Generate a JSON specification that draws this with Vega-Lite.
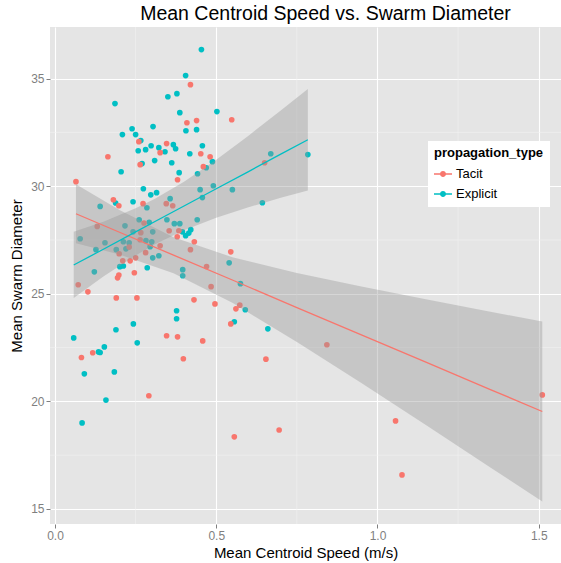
{
  "$schema": "https://vega.github.io/schema/vega-lite/v6.json",
  "width": 511,
  "height": 497,
  "autosize": {"type": "none"},
  "padding": {"left": 50, "top": 27, "right": 0, "bottom": 39},
  "background": "white",
  "title": {"text": "Mean Centroid Speed vs. Swarm Diameter", "font": "Liberation Sans", "fontSize": 19.5, "fontWeight": "normal", "color": "black", "anchor": "middle", "offset": 2, "dx": 20},
  "config": {
    "view": {"fill": "#E5E5E5", "stroke": null},
    "axis": {"labelFont": "Liberation Sans", "titleFont": "Liberation Sans", "labelFontSize": 12, "labelColor": "#7F7F7F", "tickColor": "#7F7F7F", "tickSize": 4, "domain": false, "grid": true, "gridColor": "#FFFFFF", "gridWidth": 1.1, "titleFontSize": 15, "titleFontWeight": "normal", "titleColor": "black", "labelPadding": 2},
    "legend": {"labelFont": "Liberation Sans", "titleFont": "Liberation Sans"}
  },
  "datasets": {
    "pts": [
      {"speed":0.454,"diameter":36.35,"propagation_type":"Explicit"},
      {"speed":0.405,"diameter":35.14,"propagation_type":"Explicit"},
      {"speed":0.186,"diameter":33.84,"propagation_type":"Explicit"},
      {"speed":0.350,"diameter":34.16,"propagation_type":"Explicit"},
      {"speed":0.378,"diameter":34.30,"propagation_type":"Explicit"},
      {"speed":0.387,"diameter":33.42,"propagation_type":"Explicit"},
      {"speed":0.406,"diameter":32.58,"propagation_type":"Explicit"},
      {"speed":0.439,"diameter":32.63,"propagation_type":"Explicit"},
      {"speed":0.239,"diameter":32.67,"propagation_type":"Explicit"},
      {"speed":0.304,"diameter":32.77,"propagation_type":"Explicit"},
      {"speed":0.209,"diameter":32.40,"propagation_type":"Explicit"},
      {"speed":0.250,"diameter":32.40,"propagation_type":"Explicit"},
      {"speed":0.266,"diameter":32.12,"propagation_type":"Explicit"},
      {"speed":0.258,"diameter":31.65,"propagation_type":"Explicit"},
      {"speed":0.281,"diameter":31.70,"propagation_type":"Explicit"},
      {"speed":0.298,"diameter":31.88,"propagation_type":"Explicit"},
      {"speed":0.322,"diameter":31.79,"propagation_type":"Explicit"},
      {"speed":0.367,"diameter":31.93,"propagation_type":"Explicit"},
      {"speed":0.374,"diameter":31.74,"propagation_type":"Explicit"},
      {"speed":0.341,"diameter":31.60,"propagation_type":"Explicit"},
      {"speed":0.270,"diameter":31.05,"propagation_type":"Explicit"},
      {"speed":0.309,"diameter":31.19,"propagation_type":"Explicit"},
      {"speed":0.362,"diameter":31.09,"propagation_type":"Explicit"},
      {"speed":0.418,"diameter":31.51,"propagation_type":"Explicit"},
      {"speed":0.457,"diameter":31.88,"propagation_type":"Explicit"},
      {"speed":0.469,"diameter":30.86,"propagation_type":"Explicit"},
      {"speed":0.205,"diameter":30.67,"propagation_type":"Explicit"},
      {"speed":0.385,"diameter":30.63,"propagation_type":"Explicit"},
      {"speed":0.442,"diameter":30.58,"propagation_type":"Explicit"},
      {"speed":0.274,"diameter":29.88,"propagation_type":"Explicit"},
      {"speed":0.297,"diameter":29.60,"propagation_type":"Explicit"},
      {"speed":0.315,"diameter":29.70,"propagation_type":"Explicit"},
      {"speed":0.357,"diameter":29.42,"propagation_type":"Explicit"},
      {"speed":0.450,"diameter":29.84,"propagation_type":"Explicit"},
      {"speed":0.502,"diameter":33.47,"propagation_type":"Explicit"},
      {"speed":0.488,"diameter":31.14,"propagation_type":"Explicit"},
      {"speed":0.669,"diameter":31.51,"propagation_type":"Explicit"},
      {"speed":0.784,"diameter":31.47,"propagation_type":"Explicit"},
      {"speed":0.491,"diameter":30.02,"propagation_type":"Explicit"},
      {"speed":0.550,"diameter":29.84,"propagation_type":"Explicit"},
      {"speed":0.457,"diameter":29.47,"propagation_type":"Explicit"},
      {"speed":0.188,"diameter":29.22,"propagation_type":"Explicit"},
      {"speed":0.140,"diameter":29.06,"propagation_type":"Explicit"},
      {"speed":0.242,"diameter":29.28,"propagation_type":"Explicit"},
      {"speed":0.285,"diameter":29.00,"propagation_type":"Explicit"},
      {"speed":0.347,"diameter":28.44,"propagation_type":"Explicit"},
      {"speed":0.261,"diameter":28.44,"propagation_type":"Explicit"},
      {"speed":0.292,"diameter":28.32,"propagation_type":"Explicit"},
      {"speed":0.217,"diameter":28.16,"propagation_type":"Explicit"},
      {"speed":0.370,"diameter":28.26,"propagation_type":"Explicit"},
      {"speed":0.387,"diameter":28.26,"propagation_type":"Explicit"},
      {"speed":0.441,"diameter":28.44,"propagation_type":"Explicit"},
      {"speed":0.395,"diameter":27.88,"propagation_type":"Explicit"},
      {"speed":0.405,"diameter":27.70,"propagation_type":"Explicit"},
      {"speed":0.415,"diameter":27.82,"propagation_type":"Explicit"},
      {"speed":0.421,"diameter":27.98,"propagation_type":"Explicit"},
      {"speed":0.078,"diameter":27.56,"propagation_type":"Explicit"},
      {"speed":0.155,"diameter":27.37,"propagation_type":"Explicit"},
      {"speed":0.242,"diameter":27.88,"propagation_type":"Explicit"},
      {"speed":0.303,"diameter":27.88,"propagation_type":"Explicit"},
      {"speed":0.212,"diameter":27.42,"propagation_type":"Explicit"},
      {"speed":0.230,"diameter":27.37,"propagation_type":"Explicit"},
      {"speed":0.282,"diameter":27.47,"propagation_type":"Explicit"},
      {"speed":0.300,"diameter":27.42,"propagation_type":"Explicit"},
      {"speed":0.295,"diameter":27.19,"propagation_type":"Explicit"},
      {"speed":0.127,"diameter":27.05,"propagation_type":"Explicit"},
      {"speed":0.190,"diameter":27.05,"propagation_type":"Explicit"},
      {"speed":0.220,"diameter":27.09,"propagation_type":"Explicit"},
      {"speed":0.303,"diameter":26.67,"propagation_type":"Explicit"},
      {"speed":0.322,"diameter":26.77,"propagation_type":"Explicit"},
      {"speed":0.201,"diameter":26.26,"propagation_type":"Explicit"},
      {"speed":0.212,"diameter":26.29,"propagation_type":"Explicit"},
      {"speed":0.286,"diameter":26.21,"propagation_type":"Explicit"},
      {"speed":0.122,"diameter":26.02,"propagation_type":"Explicit"},
      {"speed":0.396,"diameter":26.12,"propagation_type":"Explicit"},
      {"speed":0.396,"diameter":25.84,"propagation_type":"Explicit"},
      {"speed":0.377,"diameter":24.21,"propagation_type":"Explicit"},
      {"speed":0.377,"diameter":23.84,"propagation_type":"Explicit"},
      {"speed":0.189,"diameter":23.33,"propagation_type":"Explicit"},
      {"speed":0.243,"diameter":23.60,"propagation_type":"Explicit"},
      {"speed":0.058,"diameter":22.95,"propagation_type":"Explicit"},
      {"speed":0.255,"diameter":22.72,"propagation_type":"Explicit"},
      {"speed":0.140,"diameter":22.27,"propagation_type":"Explicit"},
      {"speed":0.135,"diameter":22.30,"propagation_type":"Explicit"},
      {"speed":0.153,"diameter":22.53,"propagation_type":"Explicit"},
      {"speed":0.643,"diameter":29.23,"propagation_type":"Explicit"},
      {"speed":0.540,"diameter":26.44,"propagation_type":"Explicit"},
      {"speed":0.575,"diameter":25.47,"propagation_type":"Explicit"},
      {"speed":0.590,"diameter":24.26,"propagation_type":"Explicit"},
      {"speed":0.556,"diameter":23.70,"propagation_type":"Explicit"},
      {"speed":0.660,"diameter":23.37,"propagation_type":"Explicit"},
      {"speed":0.091,"diameter":21.28,"propagation_type":"Explicit"},
      {"speed":0.184,"diameter":21.37,"propagation_type":"Explicit"},
      {"speed":0.158,"diameter":20.06,"propagation_type":"Explicit"},
      {"speed":0.084,"diameter":19.00,"propagation_type":"Explicit"},
      {"speed":0.420,"diameter":34.72,"propagation_type":"Tacit"},
      {"speed":0.409,"diameter":32.95,"propagation_type":"Tacit"},
      {"speed":0.439,"diameter":33.05,"propagation_type":"Tacit"},
      {"speed":0.260,"diameter":32.07,"propagation_type":"Tacit"},
      {"speed":0.346,"diameter":31.98,"propagation_type":"Tacit"},
      {"speed":0.326,"diameter":31.56,"propagation_type":"Tacit"},
      {"speed":0.164,"diameter":31.37,"propagation_type":"Tacit"},
      {"speed":0.264,"diameter":31.00,"propagation_type":"Tacit"},
      {"speed":0.452,"diameter":31.51,"propagation_type":"Tacit"},
      {"speed":0.481,"diameter":31.37,"propagation_type":"Tacit"},
      {"speed":0.460,"diameter":30.91,"propagation_type":"Tacit"},
      {"speed":0.380,"diameter":30.30,"propagation_type":"Tacit"},
      {"speed":0.065,"diameter":30.21,"propagation_type":"Tacit"},
      {"speed":0.181,"diameter":29.37,"propagation_type":"Tacit"},
      {"speed":0.548,"diameter":33.09,"propagation_type":"Tacit"},
      {"speed":0.650,"diameter":31.09,"propagation_type":"Tacit"},
      {"speed":0.198,"diameter":29.09,"propagation_type":"Tacit"},
      {"speed":0.273,"diameter":29.19,"propagation_type":"Tacit"},
      {"speed":0.345,"diameter":29.19,"propagation_type":"Tacit"},
      {"speed":0.365,"diameter":29.09,"propagation_type":"Tacit"},
      {"speed":0.276,"diameter":28.29,"propagation_type":"Tacit"},
      {"speed":0.131,"diameter":28.13,"propagation_type":"Tacit"},
      {"speed":0.354,"diameter":27.93,"propagation_type":"Tacit"},
      {"speed":0.384,"diameter":27.93,"propagation_type":"Tacit"},
      {"speed":0.379,"diameter":27.65,"propagation_type":"Tacit"},
      {"speed":0.266,"diameter":27.84,"propagation_type":"Tacit"},
      {"speed":0.264,"diameter":27.51,"propagation_type":"Tacit"},
      {"speed":0.326,"diameter":27.23,"propagation_type":"Tacit"},
      {"speed":0.432,"diameter":27.42,"propagation_type":"Tacit"},
      {"speed":0.230,"diameter":27.17,"propagation_type":"Tacit"},
      {"speed":0.199,"diameter":26.86,"propagation_type":"Tacit"},
      {"speed":0.281,"diameter":26.91,"propagation_type":"Tacit"},
      {"speed":0.420,"diameter":27.05,"propagation_type":"Tacit"},
      {"speed":0.250,"diameter":26.67,"propagation_type":"Tacit"},
      {"speed":0.210,"diameter":26.53,"propagation_type":"Tacit"},
      {"speed":0.233,"diameter":26.53,"propagation_type":"Tacit"},
      {"speed":0.246,"diameter":25.98,"propagation_type":"Tacit"},
      {"speed":0.198,"diameter":25.87,"propagation_type":"Tacit"},
      {"speed":0.194,"diameter":25.74,"propagation_type":"Tacit"},
      {"speed":0.470,"diameter":26.27,"propagation_type":"Tacit"},
      {"speed":0.072,"diameter":25.42,"propagation_type":"Tacit"},
      {"speed":0.102,"diameter":25.09,"propagation_type":"Tacit"},
      {"speed":0.190,"diameter":24.81,"propagation_type":"Tacit"},
      {"speed":0.254,"diameter":24.81,"propagation_type":"Tacit"},
      {"speed":0.431,"diameter":24.72,"propagation_type":"Tacit"},
      {"speed":0.346,"diameter":23.05,"propagation_type":"Tacit"},
      {"speed":0.380,"diameter":23.00,"propagation_type":"Tacit"},
      {"speed":0.458,"diameter":22.81,"propagation_type":"Tacit"},
      {"speed":0.082,"diameter":22.04,"propagation_type":"Tacit"},
      {"speed":0.117,"diameter":22.26,"propagation_type":"Tacit"},
      {"speed":0.398,"diameter":21.98,"propagation_type":"Tacit"},
      {"speed":0.545,"diameter":26.95,"propagation_type":"Tacit"},
      {"speed":0.484,"diameter":25.33,"propagation_type":"Tacit"},
      {"speed":0.496,"diameter":24.53,"propagation_type":"Tacit"},
      {"speed":0.561,"diameter":24.30,"propagation_type":"Tacit"},
      {"speed":0.573,"diameter":24.47,"propagation_type":"Tacit"},
      {"speed":0.545,"diameter":23.60,"propagation_type":"Tacit"},
      {"speed":0.843,"diameter":22.63,"propagation_type":"Tacit"},
      {"speed":0.654,"diameter":21.96,"propagation_type":"Tacit"},
      {"speed":0.291,"diameter":20.26,"propagation_type":"Tacit"},
      {"speed":0.556,"diameter":18.35,"propagation_type":"Tacit"},
      {"speed":0.695,"diameter":18.67,"propagation_type":"Tacit"},
      {"speed":1.056,"diameter":19.09,"propagation_type":"Tacit"},
      {"speed":1.076,"diameter":16.58,"propagation_type":"Tacit"},
      {"speed":1.511,"diameter":20.30,"propagation_type":"Tacit"}
    ],
    "fit": [
      {"propagation_type":"Tacit","speed":0.065,"fit":28.72,"lower":27.35,"upper":30.09},
      {"propagation_type":"Tacit","speed":0.2,"fit":27.86,"lower":26.83,"upper":28.89},
      {"propagation_type":"Tacit","speed":0.3675,"fit":26.80,"lower":25.96,"upper":27.63},
      {"propagation_type":"Tacit","speed":0.55,"fit":25.64,"lower":24.58,"upper":26.70},
      {"propagation_type":"Tacit","speed":0.75,"fit":24.36,"lower":22.76,"upper":25.97},
      {"propagation_type":"Tacit","speed":0.95,"fit":23.09,"lower":20.85,"upper":25.34},
      {"propagation_type":"Tacit","speed":1.15,"fit":21.82,"lower":18.90,"upper":24.75},
      {"propagation_type":"Tacit","speed":1.35,"fit":20.55,"lower":16.93,"upper":24.17},
      {"propagation_type":"Tacit","speed":1.511,"fit":19.53,"lower":15.35,"upper":23.71},
      {"propagation_type":"Explicit","speed":0.058,"fit":26.34,"lower":24.80,"upper":27.88},
      {"propagation_type":"Explicit","speed":0.15,"fit":27.07,"lower":25.80,"upper":28.35},
      {"propagation_type":"Explicit","speed":0.25,"fit":27.88,"lower":26.78,"upper":28.97},
      {"propagation_type":"Explicit","speed":0.31,"fit":28.36,"lower":27.30,"upper":29.42},
      {"propagation_type":"Explicit","speed":0.4,"fit":29.08,"lower":27.95,"upper":30.21},
      {"propagation_type":"Explicit","speed":0.5,"fit":29.88,"lower":28.53,"upper":31.23},
      {"propagation_type":"Explicit","speed":0.6,"fit":30.68,"lower":29.02,"upper":32.35},
      {"propagation_type":"Explicit","speed":0.7,"fit":31.49,"lower":29.46,"upper":33.52},
      {"propagation_type":"Explicit","speed":0.784,"fit":32.16,"lower":29.80,"upper":34.52}
    ]
  },
  "layer": [
    {
      "data": {"values": [{"v": 0.25}, {"v": 0.75}, {"v": 1.25}]},
      "mark": {"type": "rule", "color": "#F2F2F2", "strokeWidth": 0.6},
      "encoding": {"x": {"field": "v", "type": "quantitative", "scale": {"domain": [-0.0155, 1.569], "nice": false, "zero": false},
        "axis": {"values": [0, 0.5, 1, 1.5], "format": ".1f", "title": "Mean Centroid Speed (m/s)", "titlePadding": 4}}}
    },
    {
      "data": {"values": [{"v": 17.5}, {"v": 22.5}, {"v": 27.5}, {"v": 32.5}]},
      "mark": {"type": "rule", "color": "#F2F2F2", "strokeWidth": 0.6},
      "encoding": {"y": {"field": "v", "type": "quantitative", "scale": {"domain": [14.3, 37.4], "nice": false, "zero": false},
        "axis": {"values": [15, 20, 25, 30, 35], "title": "Mean Swarm Diameter", "titlePadding": 6}}}
    },
    {
      "data": {"name": "pts"},
      "mark": {"type": "circle", "size": 32, "opacity": 1},
      "encoding": {
        "x": {"field": "speed", "type": "quantitative", "scale": {"domain": [-0.0155, 1.569], "nice": false, "zero": false},
              "axis": {"values": [0, 0.5, 1, 1.5], "format": ".1f", "title": "Mean Centroid Speed (m/s)", "titlePadding": 4}},
        "y": {"field": "diameter", "type": "quantitative", "scale": {"domain": [14.3, 37.4], "nice": false, "zero": false},
              "axis": {"values": [15, 20, 25, 30, 35], "title": "Mean Swarm Diameter", "titlePadding": 6}},
        "color": {"field": "propagation_type", "type": "nominal",
                  "scale": {"domain": ["Tacit", "Explicit"], "range": ["#F8766D", "#00BFC4"]},
                  "legend": {"title": "propagation_type", "orient": "none", "legendX": 378, "legendY": 114,
                             "fillColor": "white", "padding": 6, "titleFontSize": 13, "titleFontWeight": "bold", "titleColor": "black",
                             "labelFontSize": 13, "labelColor": "black", "labelOffset": 4, "rowPadding": 4,
                             "symbolType": "M-1,-0.08H1V0.08H-1ZM-0.33,0A0.33,0.33 0 1,1 0.33,0A0.33,0.33 0 1,1 -0.33,0Z",
                             "symbolSize": 324, "symbolOpacity": 1, "symbolStrokeWidth": 0}}
      }
    },
    {
      "data": {"name": "fit"},
      "mark": {"type": "area", "color": "#999999", "opacity": 0.4},
      "encoding": {
        "x": {"field": "speed", "type": "quantitative", "axis": {"values": [0, 0.5, 1, 1.5], "format": ".1f", "title": "Mean Centroid Speed (m/s)", "titlePadding": 4}},
        "y": {"field": "lower", "type": "quantitative", "axis": {"values": [15, 20, 25, 30, 35], "title": "Mean Swarm Diameter", "titlePadding": 6}},
        "y2": {"field": "upper"},
        "detail": {"field": "propagation_type", "type": "nominal"}
      }
    },
    {
      "data": {"name": "fit"},
      "mark": {"type": "line", "strokeWidth": 1.3},
      "encoding": {
        "x": {"field": "speed", "type": "quantitative", "axis": {"values": [0, 0.5, 1, 1.5], "format": ".1f", "title": "Mean Centroid Speed (m/s)", "titlePadding": 4}},
        "y": {"field": "fit", "type": "quantitative", "axis": {"values": [15, 20, 25, 30, 35], "title": "Mean Swarm Diameter", "titlePadding": 6}},
        "stroke": {"field": "propagation_type", "type": "nominal", "scale": {"domain": ["Tacit", "Explicit"], "range": ["#F8766D", "#00BFC4"]}, "legend": null}
      }
    }
  ]
}
